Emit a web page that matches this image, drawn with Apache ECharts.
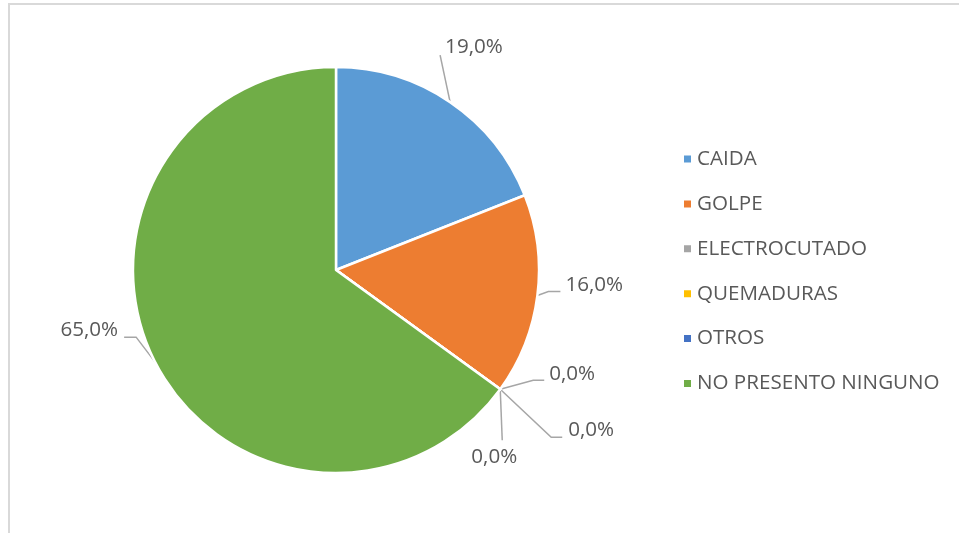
<!DOCTYPE html>
<html>
<head>
<meta charset="utf-8">
<script src="https://cdn.jsdelivr.net/npm/echarts@6/dist/echarts.min.js"></script>
<style>
html,body{margin:0;padding:0;background:#fff;}
#chart{width:959px;height:533px;}
</style>
</head>
<body>
<div id="chart"></div>
<script>
// Data
var categories = ['CAIDA', 'GOLPE', 'ELECTROCUTADO', 'QUEMADURAS', 'OTROS', 'NO PRESENTO NINGUNO'];
var values = [19.0, 16.0, 0.0, 0.0, 0.0, 65.0];
var colors = ['#5B9BD5', '#ED7D31', '#A5A5A5', '#FFC000', '#4472C4', '#70AD47'];

// Label placement relative to each slice's label-line start point (presentation only)
var labelPlace = [
  { dx: -5,  dy: -55, align: 'left',   line: [[-10, -47]] },
  { dx: 28,  dy: -10, align: 'left',   line: [[11, -4], [23, -4]] },
  { dx: 49,  dy: -15, align: 'left',   line: [[33, -9], [44, -9]] },
  { dx: 68,  dy: 41,  align: 'left',   line: [[51, 48], [62, 48]] },
  { dx: -6,  dy: 68,  align: 'center', line: [[2, 51]] },
  { dx: -37, dy: -32, align: 'right',  line: [[-19, -25], [-31, -25]] }
];

var chart = echarts.init(document.getElementById('chart'), null, { renderer: 'canvas' });
var FONT = '"Open Sans", "Noto Sans", sans-serif';

var option = {
  backgroundColor: '#ffffff',
  animation: false,
  color: colors,
  graphic: [{
    type: 'rect',
    silent: true,
    shape: { x: 9, y: 4, width: 1000, height: 600 },
    style: { fill: 'none', stroke: '#D9D9D9', lineWidth: 2 }
  }],
  legend: {
    orient: 'vertical',
    left: 677,
    top: 143.5,
    itemWidth: 9,
    itemHeight: 9,
    itemGap: 23.9,
    itemTextGap: 7,
    icon: 'rect',
    data: categories,
    textStyle: { fontFamily: FONT, fontSize: 20.6, color: '#595959', lineHeight: 20 }
  },
  series: [{
    type: 'pie',
    center: [336, 270],
    radius: 203,
    startAngle: 90,
    clockwise: true,
    avoidLabelOverlap: false,
    itemStyle: { borderColor: '#ffffff', borderWidth: 2.5 },
    label: {
      show: true,
      position: 'outside',
      fontFamily: FONT,
      fontSize: 20.6,
      color: '#595959',
      formatter: function (p) { return p.value.toFixed(1).replace('.', ',') + '%'; }
    },
    labelLine: {
      show: true,
      smooth: false,
      length: 10,
      length2: 10,
      lineStyle: { color: '#A6A6A6', width: 1.5 }
    },
    labelLayout: function (params) {
      var pl = labelPlace[params.dataIndex];
      var p0 = params.labelLinePoints ? params.labelLinePoints[0] : [0, 0];
      var pts = [[p0[0], p0[1]]];
      pl.line.forEach(function (o) { pts.push([p0[0] + o[0], p0[1] + o[1]]); });
      return {
        x: p0[0] + pl.dx,
        y: p0[1] + pl.dy,
        align: pl.align,
        verticalAlign: 'middle',
        labelLinePoints: pts
      };
    },
    emphasis: { disabled: true },
    data: categories.map(function (c, i) { return { name: c, value: values[i] }; })
  }]
};
chart.setOption(option);
</script>
</body>
</html>
